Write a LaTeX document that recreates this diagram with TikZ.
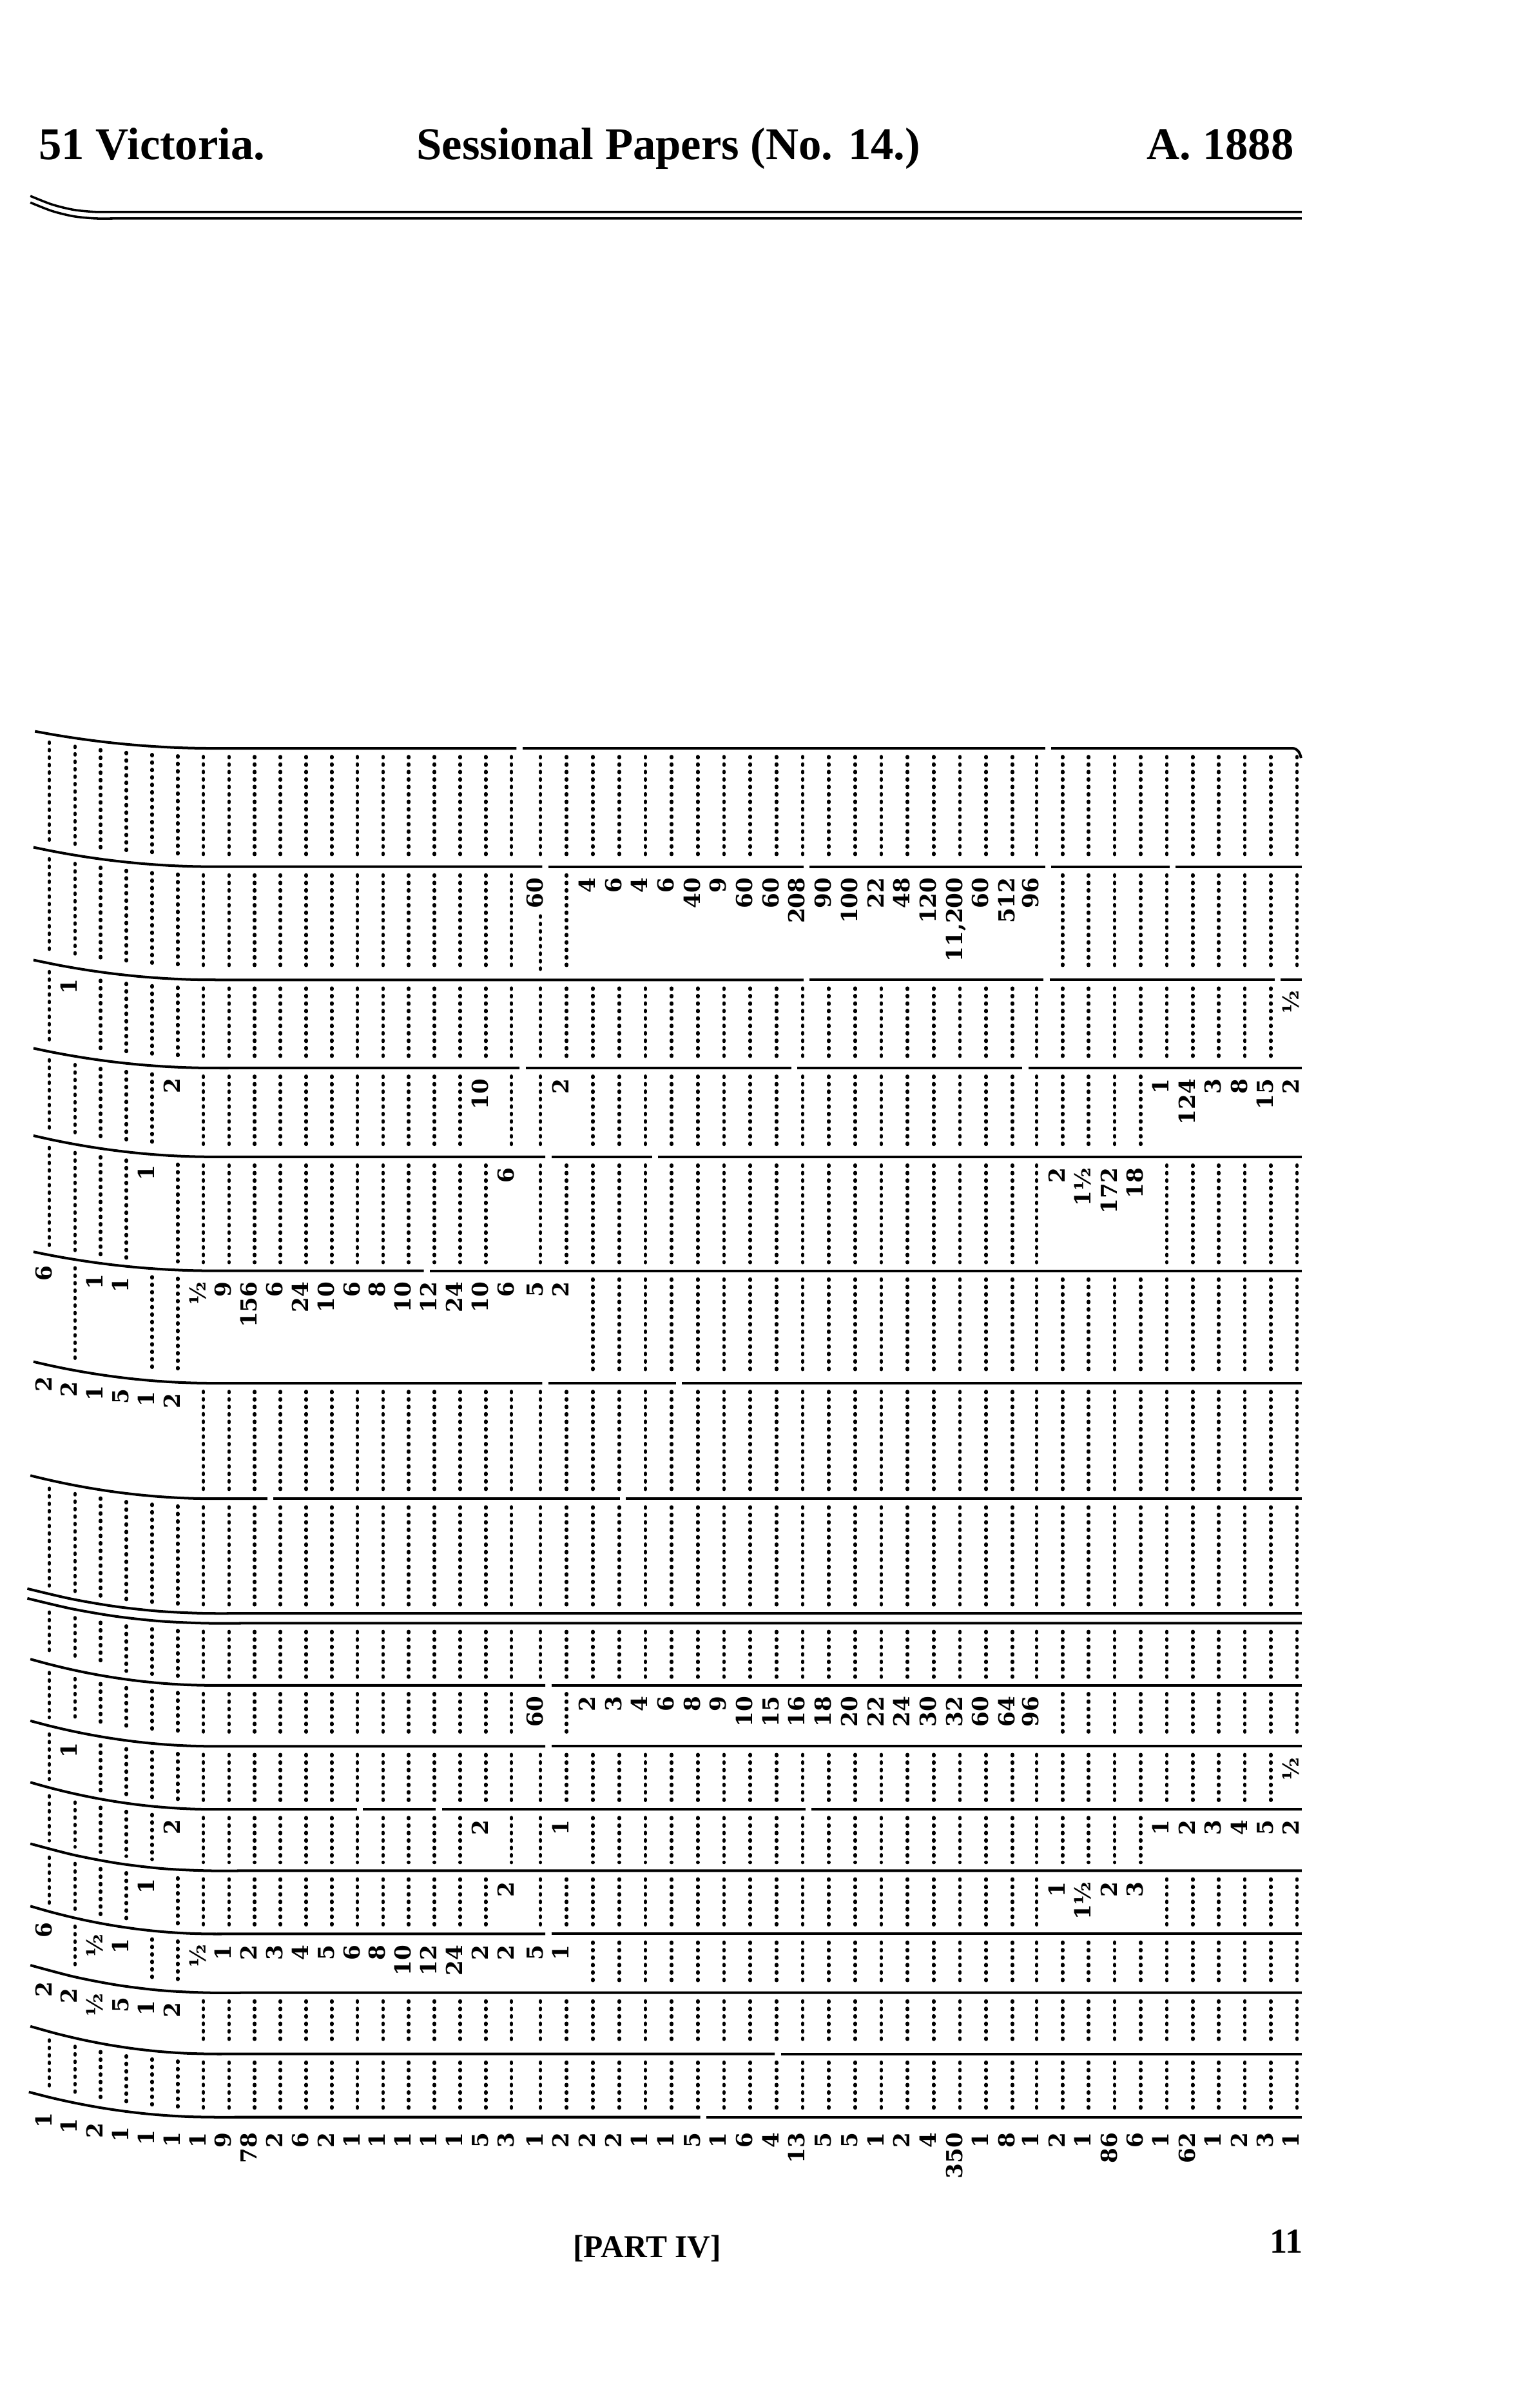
\documentclass[tikz,border=0pt]{standalone}
\usepackage{fontspec}
\usepackage{etoolbox}
\setmainfont{Liberation Serif}
\newfontfamily\numfont{DejaVu Serif}
\pgfmathdeclarefunction{colx}{1}{%
  \pgfmathparse{(#1<19) ? (32.5+16.9*#1) : ((#1<38) ? (355.8+17.26*(#1-19)) : (682.4+17.14*(#1-38)))}%
}
\tikzset{
  rule/.style={line width=1.7pt},
  hrule/.style={line width=1.5pt},
  leader/.style={line width=2.4pt, line cap=round, dash pattern=on 0.6pt off 4.3pt},
  num/.style={rotate=90, anchor=base east, inner sep=0pt, font=\numfont\bfseries\fontsize{14.5pt}{14.5pt}\selectfont},
  head/.style={inner sep=0pt, font=\bfseries\fontsize{30pt}{30pt}\selectfont},
}
% a ruled line: #1 right-hand y, #2 rise at the left end, #3 segments a/b
\newcommand\tabrule[3]{%
  \foreach \sa/\sb in {#3}{%
    \draw[rule] plot[smooth, domain=\sa:\sb, samples=30]
      (\x,{#1-#2*max(0,1-(\x-21)/120)*max(0,1-(\x-21)/120)});
  }%
}
% a band of cells: #1 name, #2 #3 top line, #4 #5 bottom line, #6 k/value list
\newcommand\band[6]{%
  \foreach \kk/\vv in {#6}{\expandafter\xdef\csname cell@#1@\kk\endcsname{\vv}}%
  \foreach \kc in {0,...,48}{%
    \pgfmathsetmacro\cx{colx(\kc)}%
    \pgfmathsetmacro\cw{max(0,1-(\cx-21)/120)}%
    \pgfmathsetmacro\yt{#2-#3*\cw*\cw}%
    \pgfmathsetmacro\yb{#4-#5*\cw*\cw}%
    \ifcsname cell@#1@\kc\endcsname
      \edef\val{\csname cell@#1@\kc\endcsname}%
      \ifdefstring{\val}{-}{}{\node[num] (c#1-\kc) at (\cx+1.5,\yt+7) {\val};}%
    \else
      \draw[leader] (\cx,\yt+5.5) -- (\cx,\yb-5.5);%
    \fi
  }%
}
\begin{document}
\begin{tikzpicture}[x=1pt,y=-1pt]
\fill[white] (0,0) rectangle (1000,1585.07);
\useasboundingbox (0,0) rectangle (1000,1585.07);

% header
\node[head, anchor=base west] (h1) at (25.5,105) {51 Victoria.};
\node[head, anchor=base west] (h2) at (274,105) {Sessional Papers (No. 14.)};
\node[head, anchor=base east] (h3) at (852,105) {A. 1888};
\draw[hrule] plot[smooth, domain=20:857, samples=60]
  (\x,{139.5-10.5*max(0,1-(\x-20)/45)*max(0,1-(\x-20)/45)});
\draw[hrule] plot[smooth, domain=20:857, samples=60]
  (\x,{143.8-10.5*max(0,1-(\x-20)/45)*max(0,1-(\x-20)/45)});

% rules of the table
\tabrule{492.6}{11.6}{23/340, 344/688, 692/851}
\draw[rule] (851,492.6) to[out=0,in=100] (856.5,499);
\tabrule{570.5}{13}{22/357, 361/529, 533/688, 692/770, 774/857}
\tabrule{645}{13.3}{22/529, 533/687, 691/839, 843/857}
\tabrule{703}{13.2}{22/342, 346/521, 525/673, 677/857}
\tabrule{761.5}{14.2}{22/359, 363/429, 433/857}
\tabrule{836.5}{12.7}{22/279, 283/857}
\tabrule{910.5}{14.4}{22/357, 361/445, 449/857}
\tabrule{986.5}{15}{20/176, 180/408, 412/857}
\tabrule{1062}{15.5}{18/857}
\tabrule{1068.5}{15.6}{18/857}
\tabrule{1109.4}{17}{20/359, 363/857}
\tabrule{1149.5}{16.5}{20/359, 363/857}
\tabrule{1191}{17.5}{20/235, 239/287, 291/530, 534/857}
\tabrule{1231.4}{17.5}{20/857}
\tabrule{1273}{18}{20/359, 363/857}
\tabrule{1311.7}{17.8}{20/857}
\tabrule{1352}{17.9}{20/510, 514/857}
\tabrule{1393.6}{16}{19/461, 465/857}

% bands of cells
\band{B1}{492.6}{11.6}{570.5}{13}{99/-}
\band{B2}{570.5}{13}{645}{13.3}{19/60, 21/4, 22/6, 23/4, 24/6, 25/40, 26/9, 27/60, 28/60, 29/208, 30/90, 31/100, 32/22, 33/48, 34/120, 35/{11,200}, 36/60, 37/512, 38/96}
\draw[leader] (355.8,603) -- (355.8,639.5);
\band{B3}{645}{13.3}{703}{13.2}{1/1, 48/½}
\band{B4}{703}{13.2}{761.5}{14.2}{5/2, 17/10, 20/2, 43/1, 44/124, 45/3, 46/8, 47/15, 48/2}
\band{B5}{761.5}{14.2}{836.5}{12.7}{4/1, 18/6, 39/2, 40/1½, 41/172, 42/18}
\band{B6}{836.5}{12.7}{910.5}{14.4}{0/6, 2/1, 3/1, 6/½, 7/9, 8/156, 9/6, 10/24, 11/10, 12/6, 13/8, 14/10, 15/12, 16/24, 17/10, 18/6, 19/5, 20/2}
\band{B7}{910.5}{14.4}{986.5}{15}{0/2, 1/2, 2/1, 3/5, 4/1, 5/2}
\band{B8}{986.5}{15}{1062}{15.5}{99/-}
\band{B9}{1068.5}{15.6}{1109.4}{17}{99/-}
\band{B10}{1109.4}{17}{1149.5}{16.5}{19/60, 21/2, 22/3, 23/4, 24/6, 25/8, 26/9, 27/10, 28/15, 29/16, 30/18, 31/20, 32/22, 33/24, 34/30, 35/32, 36/60, 37/64, 38/96}
\band{B11}{1149.5}{16.5}{1191}{17.5}{1/1, 48/½}
\band{B12}{1191}{17.5}{1231.4}{17.5}{5/2, 17/2, 20/1, 43/1, 44/2, 45/3, 46/4, 47/5, 48/2}
\band{B13}{1231.4}{17.5}{1273}{18}{4/1, 18/2, 39/1, 40/1½, 41/2, 42/3}
\band{B14}{1273}{18}{1311.7}{17.8}{0/6, 2/½, 3/1, 6/½, 7/1, 8/2, 9/3, 10/4, 11/5, 12/6, 13/8, 14/10, 15/12, 16/24, 17/2, 18/2, 19/5, 20/1}
\band{B15}{1311.7}{17.8}{1352}{17.9}{0/2, 1/2, 2/½, 3/5, 4/1, 5/2}
\band{B16}{1352}{17.9}{1393.6}{16}{99/-}
\band{BR}{1396.6}{16}{1450}{16}{0/1, 1/1, 2/2, 3/1, 4/1, 5/1, 6/1, 7/9, 8/78, 9/2, 10/6, 11/2, 12/1, 13/1, 14/1, 15/1, 16/1, 17/5, 18/3, 19/1, 20/2, 21/2, 22/2, 23/1, 24/1, 25/5, 26/1, 27/6, 28/4, 29/13, 30/5, 31/5, 32/1, 33/2, 34/4, 35/350, 36/1, 37/8, 38/1, 39/2, 40/1, 41/86, 42/6, 43/1, 44/62, 45/1, 46/2, 47/3, 48/1}

% footer
\node[inner sep=0pt, anchor=base, font=\bfseries\fontsize{21pt}{21pt}\selectfont] (f1) at (426,1486) {[PART IV]};
\node[inner sep=0pt, anchor=base east, font=\bfseries\fontsize{23pt}{23pt}\selectfont] (f2) at (858,1483) {11};
\end{tikzpicture}
\end{document}
